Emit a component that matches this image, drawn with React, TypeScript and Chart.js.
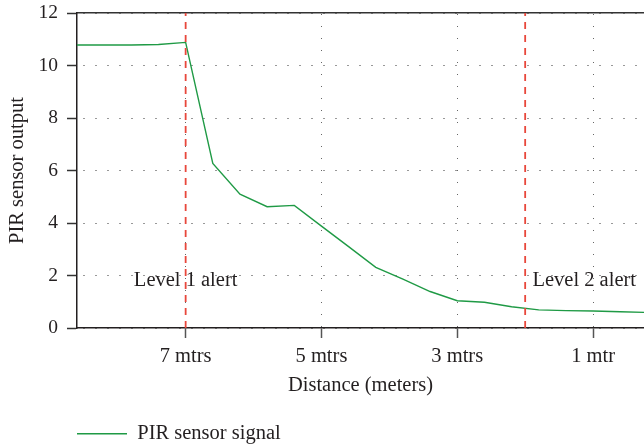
import React, { useEffect, useRef } from 'react';
import { Chart, registerables } from 'chart.js';

Chart.register(...registerables);

// ---- data ----
const distances = [8.6, 8.2, 7.8, 7.4, 7.0, 6.6, 6.2, 5.8, 5.4, 5.0, 4.6, 4.2, 3.8, 3.4, 3.0, 2.6, 2.2, 1.8, 1.4, 1.0, 0.6, 0.2];
const sensorSignal = [10.78, 10.78, 10.78, 10.8, 10.88, 6.27, 5.1, 4.62, 4.67, 3.88, 3.1, 2.31, 1.86, 1.39, 1.04, 0.98, 0.81, 0.69, 0.66, 0.65, 0.62, 0.59];
const seriesLabel = 'PIR sensor signal';
const xTickValues = [7, 5, 3, 1];
const xTickLabels = ['7 mtrs', '5 mtrs', '3 mtrs', '1 mtr'];
const yTickValues = [0, 2, 4, 6, 8, 10, 12];
const xRange = [0.25, 8.6];
const yRange = [0, 12];
const alertDistances = [7, 2];
const alertLabels = ['Level 1 alert', 'Level 2 alert'];
const alertLabelX = [7, 1.13];
const alertLabelY = 1.6;
const xTitle = 'Distance (meters)';
const yTitle = 'PIR sensor output';

const FONT_FAMILY = '"Liberation Serif", "Times New Roman", serif';
const TEXT = '#231f20';
const GREEN = '#1f9a45';
const RED = '#e8473b';

const alertTextPlugin = {
  id: 'alertText',
  afterDatasetsDraw(chart: any) {
    const { ctx, scales } = chart;
    const x = scales.x;
    const y = scales.y;
    ctx.save();
    ctx.font = `20.5px ${FONT_FAMILY}`;
    ctx.fillStyle = TEXT;
    ctx.textAlign = 'center';
    ctx.textBaseline = 'alphabetic';
    alertLabels.forEach((t, i) => {
      ctx.fillText(t, x.getPixelForValue(alertLabelX[i]), y.getPixelForValue(alertLabelY));
    });
    ctx.restore();
  },
};

export default function App() {
  const ref = useRef<HTMLCanvasElement | null>(null);

  useEffect(() => {
    if (!ref.current) return;
    const font = { family: FONT_FAMILY, size: 20.5 };
    const yTickFont = { family: FONT_FAMILY, size: 19.5 };
    const alertSets = alertDistances.map((d) => ({
      label: 'alert',
      data: [{ x: d, y: yRange[0] }, { x: d, y: yRange[1] }],
      borderColor: RED,
      borderWidth: 1.8,
      borderDash: [7, 6],
      pointRadius: 0,
      fill: false,
      order: 1,
    }));
    const chart = new Chart(ref.current, {
      type: 'line',
      data: {
        datasets: [
          {
            label: seriesLabel,
            data: distances.map((d, i) => ({ x: d, y: sensorSignal[i] })),
            borderColor: GREEN,
            backgroundColor: GREEN,
            borderWidth: 1.4,
            pointRadius: 0,
            tension: 0,
            fill: false,
            order: 2,
          },
          ...alertSets,
        ],
      },
      options: {
        responsive: false,
        animation: false,
        layout: { padding: { top: 13, right: 0, bottom: 0, left: 0 } },
        plugins: {
          tooltip: { enabled: false },
          legend: {
            position: 'bottom',
            align: 'start',
            fullSize: false,
            labels: {
              usePointStyle: true,
              pointStyle: 'line',
              pointStyleWidth: 50,
              padding: 0,
              font,
              color: TEXT,
              filter: (item: any) => item.datasetIndex === 0,
            },
          },
        },
        scales: {
          x: {
            type: 'linear',
            reverse: true,
            min: xRange[0],
            max: xRange[1],
            afterBuildTicks: (s: any) => {
              s.ticks = xTickValues.map((v) => ({ value: v }));
            },
            afterFit: (s: any) => {
              s.height = 95.5;
              s.paddingLeft = 0;
              s.paddingRight = 0;
            },
            ticks: {
              font,
              color: TEXT,
              padding: 6.7,
              maxRotation: 0,
              autoSkip: false,
              callback: (v: any) => {
                const i = xTickValues.indexOf(Number(v));
                return i >= 0 ? xTickLabels[i] : '';
              },
            },
            grid: {
              color: '#666',
              lineWidth: 1,
              tickLength: 10,
              tickColor: '#555',
              tickWidth: 1.5,
            },
            border: { display: true, color: TEXT, width: 1.5, dash: [1, 11], dashOffset: 11 },
            title: { display: true, text: xTitle, font, color: TEXT, padding: { top: 0, bottom: 25.2 } },
          },
          x2: {
            type: 'linear',
            position: 'top',
            min: 0,
            max: 1,
            ticks: { display: false },
            grid: { display: false, drawTicks: false },
            border: { display: true, color: '#333', width: 1.5 },
          },
          y: {
            type: 'linear',
            min: yRange[0],
            max: yRange[1],
            afterBuildTicks: (s: any) => {
              s.ticks = yTickValues.map((v) => ({ value: v }));
            },
            afterFit: (s: any) => {
              s.width = 77;
              s.paddingTop = 0;
              s.paddingBottom = 0;
            },
            ticks: { font: yTickFont, color: TEXT, padding: 9 },
            grid: {
              color: '#333',
              lineWidth: 1,
              tickLength: 10,
              tickColor: '#333',
              tickWidth: 1.5,
            },
            border: { display: true, color: TEXT, width: 1.5, dash: [1, 11], dashOffset: 6 },
            title: { display: true, text: yTitle, font, color: TEXT, padding: { top: 5.2, bottom: 0 } },
          },
        },
      },
      plugins: [alertTextPlugin],
    } as any);
    return () => chart.destroy();
  }, []);

  return (
    <div style={{ position: 'absolute', left: 0, top: 0, width: 644, height: 447, overflow: 'hidden', background: '#fff' }}>
      <canvas ref={ref} width={644} height={454} style={{ width: 644, height: 454, display: 'block' }} />
    </div>
  );
}
